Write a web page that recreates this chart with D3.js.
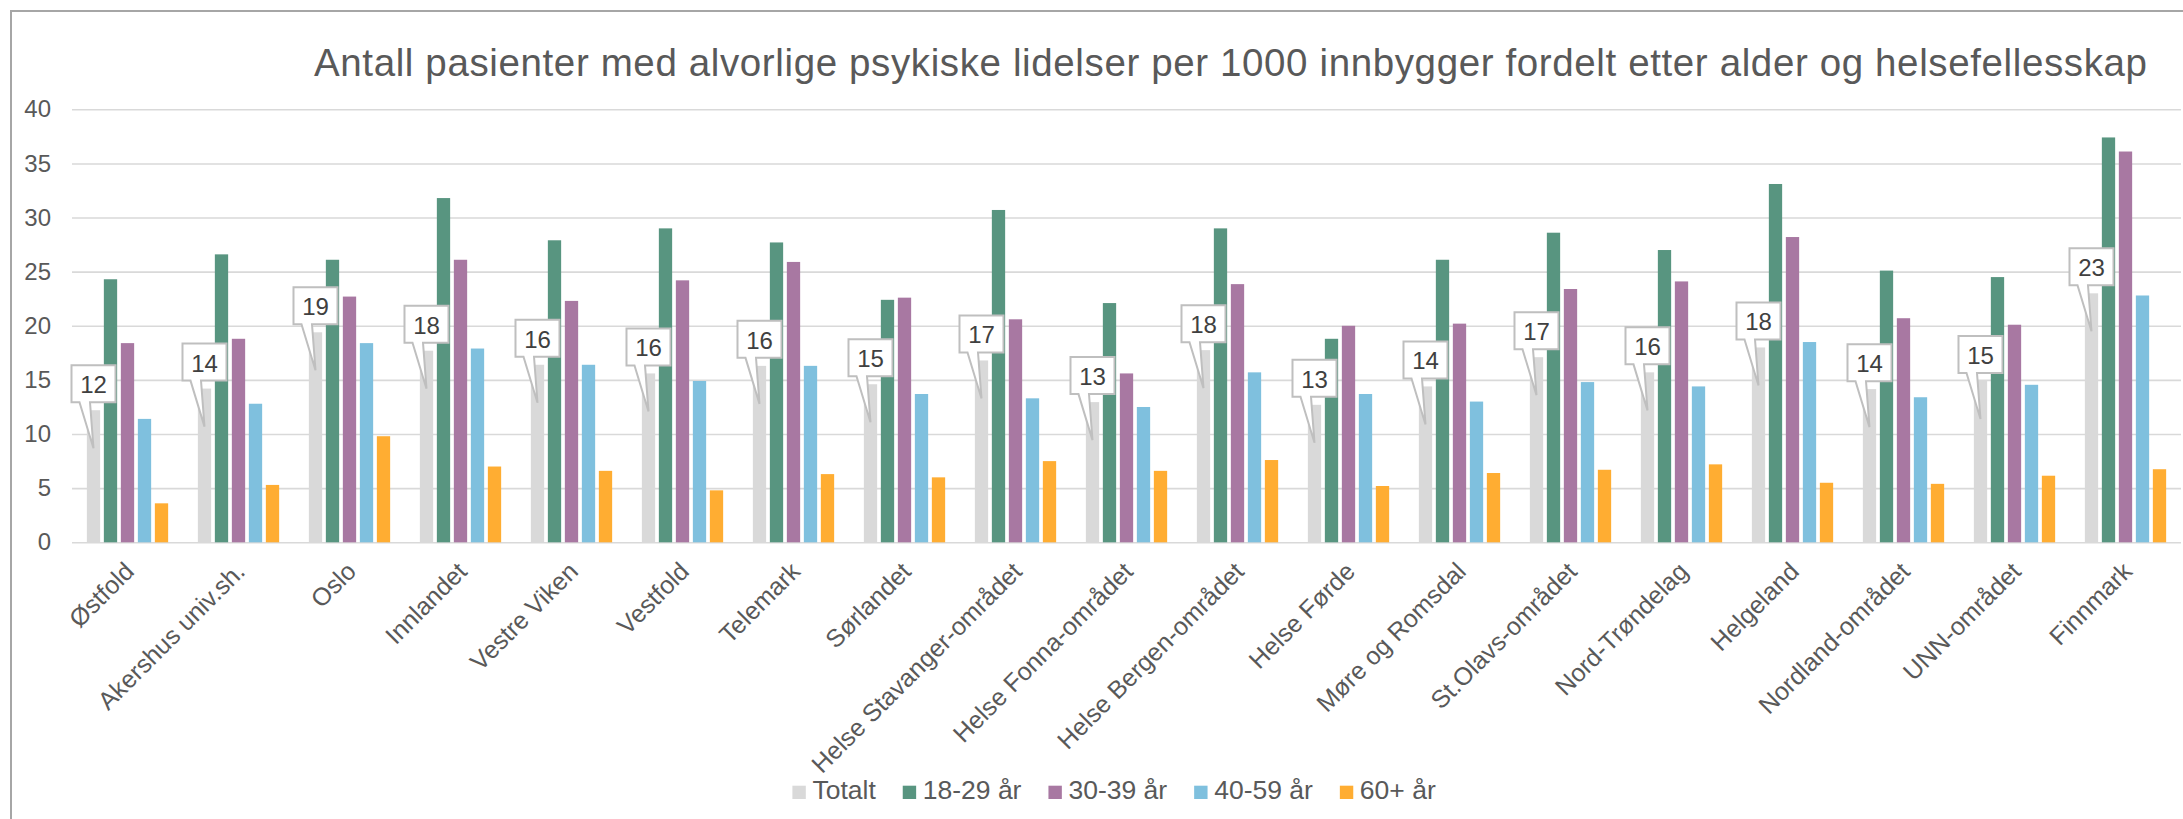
<!DOCTYPE html>
<html>
<head>
<meta charset="utf-8">
<script src="https://cdn.jsdelivr.net/npm/d3@7"></script>
<style>
  body { margin: 0; background: #fff; }
  text { font-family: "Liberation Sans", Arial, sans-serif; }
</style>
</head>
<body>
<div id="chart"></div>
<script>
// chart data
const categories = ["Østfold", "Akershus univ.sh.", "Oslo", "Innlandet", "Vestre Viken", "Vestfold",
  "Telemark", "Sørlandet", "Helse Stavanger-området", "Helse Fonna-området", "Helse Bergen-området",
  "Helse Førde", "Møre og Romsdal", "St.Olavs-området", "Nord-Trøndelag", "Helgeland",
  "Nordland-området", "UNN-området", "Finnmark"];
const seriesNames = ["Totalt", "18-29 år", "30-39 år", "40-59 år", "60+ år"];
const totalt = [12.2, 14.2, 19.4, 17.7, 16.4, 15.6, 16.3, 14.6, 16.8, 12.95, 17.75, 12.7, 14.4, 17.1, 15.7, 18.0, 14.15, 14.9, 23.0];
const age18_29 = [24.3, 26.6, 26.1, 31.8, 27.9, 29.0, 27.7, 22.4, 30.7, 22.1, 29.0, 18.8, 26.1, 28.6, 27.0, 33.1, 25.1, 24.5, 37.4];
const age30_39 = [18.4, 18.8, 22.7, 26.1, 22.3, 24.2, 25.9, 22.6, 20.6, 15.6, 23.85, 20.0, 20.2, 23.4, 24.1, 28.2, 20.7, 20.1, 36.1];
const age40_59 = [11.4, 12.8, 18.4, 17.9, 16.4, 14.9, 16.3, 13.7, 13.3, 12.5, 15.7, 13.7, 13.0, 14.8, 14.4, 18.5, 13.4, 14.55, 22.8];
const age60 = [3.6, 5.3, 9.8, 7.0, 6.6, 4.8, 6.3, 6.0, 7.5, 6.6, 7.6, 5.2, 6.4, 6.7, 7.2, 5.5, 5.4, 6.15, 6.75];
const yTicks = [0, 5, 10, 15, 20, 25, 30, 35, 40];
const colors = ["#d9d9d9", "#589580", "#a878a2", "#7fc0de", "#ffad32"];
const title = "Antall pasienter med alvorlige psykiske lidelser per 1000 innbygger fordelt etter alder og helsefellesskap";

const W = 2183, H = 819;
const plot = {left: 72, right: 2181, top: 109.3, bottom: 542.3};

const allSeries = [totalt, age18_29, age30_39, age40_59, age60];
const rows = categories.map((c, i) => ({cat: c, vals: allSeries.map((s, k) => ({key: seriesNames[k], v: s[i], k: k}))}));

const svg = d3.select("#chart").append("svg")
  .attr("width", W).attr("height", H);

// outer frame (only left and top visible in crop)
svg.append("path")
  .attr("d", "M11,819 V11 H2183")
  .attr("fill", "none").attr("stroke", "#a6a6a6").attr("stroke-width", 2);

svg.append("text")
  .attr("x", 314).attr("y", 75.7)
  .attr("font-size", 38.5).attr("fill", "#595959")
  .attr("textLength", 1833).attr("lengthAdjust", "spacing")
  .text(title);

const x0 = d3.scaleBand().domain(categories).range([plot.left, plot.right]);
const groupW = 81.3;
const x1 = d3.scaleBand().domain(seriesNames)
  .range([(x0.bandwidth() - groupW) / 2, (x0.bandwidth() + groupW) / 2])
  .paddingInner(0.218);
const y = d3.scaleLinear().domain([0, 40]).range([plot.bottom, plot.top]);

// gridlines
svg.append("g")
  .attr("transform", `translate(${plot.left},0)`)
  .call(d3.axisLeft(y).tickValues(yTicks).tickSize(-(plot.right - plot.left)).tickFormat(""))
  .call(g => g.select(".domain").remove())
  .call(g => g.selectAll("line").attr("stroke", "#d9d9d9").attr("stroke-width", 1.6));

// y labels
svg.append("g")
  .attr("transform", `translate(${plot.left},0)`)
  .call(d3.axisLeft(y).tickValues(yTicks).tickSize(0).tickPadding(21))
  .call(g => g.select(".domain").remove())
  .call(g => g.selectAll("text").attr("font-size", 24).attr("fill", "#595959")
    .attr("font-family", "Liberation Sans, Arial, sans-serif"));

// bars
const groups = svg.append("g").selectAll("g")
  .data(rows).join("g")
  .attr("transform", d => `translate(${x0(d.cat)},0)`);

groups.selectAll("rect")
  .data(d => d.vals).join("rect")
  .attr("x", d => x1(d.key))
  .attr("y", d => y(d.v))
  .attr("width", x1.bandwidth())
  .attr("height", d => y(0) - y(d.v))
  .attr("fill", d => colors[d.k]);

// x axis labels
svg.append("g").selectAll("text")
  .data(categories).join("text")
  .attr("transform", d => `translate(${x0(d) + x0.bandwidth() / 2 + 8},573) rotate(-45)`)
  .attr("text-anchor", "end")
  .attr("font-size", 25).attr("fill", "#595959")
  .text(d => d);

// callouts for Totalt
const bw = 44, bh = 37;
const callouts = svg.append("g").selectAll("g")
  .data(rows).join("g")
  .attr("transform", d => `translate(${x0(d.cat) + x1("Totalt") + x1.bandwidth() / 2},${y(d.vals[0].v)})`);

callouts.append("path")
  .attr("d", () => {
    const l = -bw / 2, r = bw / 2, b = -8, t = -8 - bh;
    return `M${l},${t} H${r} V${b} H${-3.5} L0,38 L${-14},${b} H${l} Z`;
  })
  .attr("fill", "#fff").attr("stroke", "#bfbfbf").attr("stroke-width", 2);

callouts.append("text")
  .attr("x", 0).attr("y", -17)
  .attr("text-anchor", "middle")
  .attr("font-size", 24).attr("fill", "#404040")
  .text(d => Math.round(d.vals[0].v));

// legend
const legend = svg.append("g");
const items = legend.selectAll("g").data(seriesNames).join("g");
items.append("rect")
  .attr("width", 13.4).attr("height", 13.3).attr("y", 785.7)
  .attr("fill", (d, i) => colors[i]);
items.append("text")
  .attr("x", 20).attr("y", 799.3)
  .attr("font-size", 26.5).attr("fill", "#595959")
  .text(d => d);
let lx = 792.4;
items.each(function () {
  const g = d3.select(this);
  g.attr("transform", `translate(${lx},0)`);
  lx += 20 + g.select("text").node().getComputedTextLength() + 27;
});
</script>
</body>
</html>
